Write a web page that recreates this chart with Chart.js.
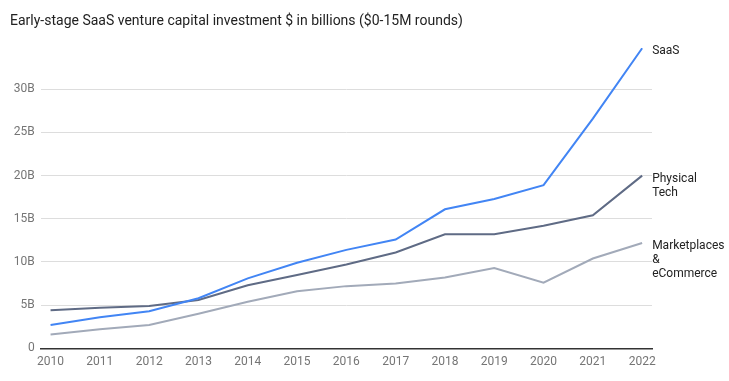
<!DOCTYPE html>
<html>
<head>
<meta charset="utf-8">
<script src="https://cdn.jsdelivr.net/npm/chart.js@4/dist/chart.umd.min.js"></script>
<style>
  html, body { margin: 0; padding: 0; background: #fff; }
  #wrap { width: 729px; height: 381px; }
</style>
</head>
<body>
<div id="wrap"><canvas id="c" width="729" height="381"></canvas></div>
<script>
const years = [2010, 2011, 2012, 2013, 2014, 2015, 2016, 2017, 2018, 2019, 2020, 2021, 2022];
const saas = [2.7, 3.6, 4.3, 5.8, 8.1, 9.9, 11.4, 12.6, 16.1, 17.3, 18.9, 26.6, 34.75];
const physicalTech = [4.4, 4.7, 4.9, 5.6, 7.3, 8.5, 9.7, 11.1, 13.2, 13.2, 14.2, 15.4, 20.0];
const marketplaces = [1.6, 2.2, 2.7, 4.0, 5.4, 6.6, 7.2, 7.5, 8.2, 9.3, 7.6, 10.4, 12.2];
const yTicks = [0, 5, 10, 15, 20, 25, 30];
const seriesNames = ["SaaS", "Physical Tech", "Marketplaces & eCommerce"];
const endLabels = [["SaaS"], ["Physical", "Tech"], ["Marketplaces", "&", "eCommerce"]];
const titleText = "Early-stage SaaS venture capital investment $ in billions ($0-15M rounds)";

const endLabelPlugin = {
  id: 'endLabels',
  afterDatasetsDraw(chart) {
    const ctx = chart.ctx;
    ctx.save();
    ctx.font = '12px Roboto';
    ctx.fillStyle = '#222222';
    ctx.textAlign = 'left';
    ctx.textBaseline = 'middle';
    chart.data.datasets.forEach((ds, i) => {
      const meta = chart.getDatasetMeta(i);
      const pt = meta.data[meta.data.length - 1];
      endLabels[i].forEach((line, j) => {
        ctx.fillText(line, pt.x + 10, pt.y + 3 + j * 14);
      });
    });
    ctx.restore();
  }
};

const mk = (name, data, color) => ({
  label: name,
  data: years.map((y, i) => ({ x: y, y: data[i] })),
  borderColor: color,
  backgroundColor: color,
  borderWidth: 2,
  pointRadius: 0,
  tension: 0,
  fill: false
});

new Chart(document.getElementById('c'), {
  type: 'line',
  data: {
    datasets: [
      mk(seriesNames[0], saas, '#4285f4'),
      mk(seriesNames[1], physicalTech, '#5f6b85'),
      mk(seriesNames[2], marketplaces, '#a2aab9')
    ]
  },
  options: {
    responsive: false,
    animation: false,
    devicePixelRatio: 1,
    layout: { padding: { left: 10, right: 77, top: 10, bottom: 0 } },
    plugins: {
      legend: { display: false },
      tooltip: { enabled: false },
      title: {
        display: true,
        text: titleText,
        align: 'start',
        color: '#222222',
        font: { family: 'Roboto', size: 14, weight: 'normal' },
        padding: { top: 3, bottom: 18 }
      }
    },
    scales: {
      x: {
        type: 'linear',
        min: 2009.8,
        max: 2022.2,
        afterBuildTicks: (s) => { s.ticks = years.map(v => ({ value: v })); },
        afterFit: (s) => { s.height = 32.7; },
        grid: { display: false, drawTicks: false },
        border: { display: true, color: '#333333', width: 1.5 },
        ticks: {
          color: '#757575',
          font: { family: 'Roboto', size: 12 },
          padding: 6,
          maxRotation: 0,
          autoSkip: false,
          callback: (v) => String(v)
        }
      },
      y: {
        min: 0,
        max: 34.8,
        afterBuildTicks: (s) => { s.ticks = yTicks.map(v => ({ value: v })); },
        afterFit: (s) => { s.width = 30.7; },
        grid: { color: '#dddddd', lineWidth: 1, drawTicks: false },
        border: { display: false },
        ticks: {
          color: '#757575',
          font: { family: 'Roboto', size: 12 },
          padding: 6,
          callback: (v) => v === 0 ? '0' : v + 'B'
        }
      }
    }
  },
  plugins: [endLabelPlugin]
});
</script>
</body>
</html>
